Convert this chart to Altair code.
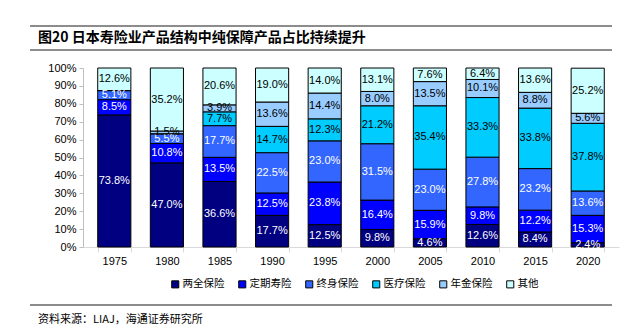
import altair as alt
import pandas as pd

years = ['1975', '1980', '1985', '1990', '1995', '2000', '2005', '2010', '2015', '2020']
series = ['两全保险', '定期寿险', '终身保险', '医疗保险', '年金保险', '其他']
liangquan = [73.8, 47.0, 36.6, 17.7, 12.5, 9.8, 4.6, 12.6, 8.4, 2.4]
dingqi = [8.5, 10.8, 13.5, 12.5, 23.8, 16.4, 15.9, 9.8, 12.2, 15.3]
zhongshen = [5.1, 5.5, 17.7, 22.5, 23.0, 31.5, 23.0, 27.8, 23.2, 13.6]
yiliao = [0.0, 0.0, 7.7, 14.7, 12.3, 21.2, 35.4, 33.3, 33.8, 37.8]
nianjin = [0.0, 1.5, 3.9, 13.6, 14.4, 8.0, 13.5, 10.1, 8.8, 5.6]
qita = [12.6, 35.2, 20.6, 19.0, 14.0, 13.1, 7.6, 6.4, 13.6, 25.2]
colors = ['#000080', '#0000FF', '#3366FF', '#00CCFF', '#99CCFF', '#CCFFFF']
y_ticks = [0, 10, 20, 30, 40, 50, 60, 70, 80, 90, 100]

title_text = '图20 日本寿险业产品结构中纯保障产品占比持续提升'
source_text = '资料来源：LIAJ，海通证券研究所'

all_vals = [liangquan, dingqi, zhongshen, yiliao, nianjin, qita]
rows = []
for si, (s, vals) in enumerate(zip(series, all_vals)):
    for y, v in zip(years, vals):
        rows.append({'year': y, 'series': s, 'value': v, 'order': si})
df = pd.DataFrame(rows)

W, H = 536, 179
PL, PT = 83, 68
CJK = 'Noto Sans CJK SC'
LAT = 'Liberation Sans'

base = alt.Chart(df).transform_stack(
    stack='value', as_=['y0', 'y1'], groupby=['year'],
    sort=[alt.SortField('order', order='ascending')]
).transform_calculate(
    mid='(datum.y0 + datum.y1) / 2',
    label="format(datum.value, '.1f') + '%'"
)

xaxis = alt.Axis(title=None, labelAngle=0, tickBand='extent',
                 domainColor='#d9d9d9', tickColor='#d9d9d9', tickSize=5,
                 labelFont=LAT, labelFontSize=11, labelColor='black',
                 labelPadding=3, labelOverlap=False)
xscale = alt.Scale(paddingInner=0.37, paddingOuter=0.28)
yaxis = alt.Axis(title=None, values=y_ticks, tickCount=11,
                 labelExpr="datum.value + '%'", grid=False,
                 labelOverlap=False, labelBound=False,
                 domainColor='#bfbfbf', tickColor='#bfbfbf', tickSize=4,
                 labelFont=LAT, labelFontSize=11, labelColor='black',
                 labelPadding=3)
yscale = alt.Scale(domain=[0, 100], nice=False)

bars = base.mark_bar(stroke='black', strokeWidth=1).encode(
    x=alt.X('year:N', sort=years, scale=xscale, axis=xaxis),
    y=alt.Y('y0:Q', scale=yscale, axis=yaxis),
    y2='y1:Q',
    fill=alt.Color('series:N', scale=alt.Scale(domain=series, range=colors),
                   legend=alt.Legend(title=None, orient='none', direction='horizontal',
                                     legendX=170 - PL, legendY=279 - PT,
                                     symbolType='square', symbolSize=50,
                                     symbolStrokeColor='black', symbolStrokeWidth=1,
                                     symbolOpacity=1,
                                     labelFont=CJK, labelFontSize=10.5, labelColor='black',
                                     columnPadding=11, labelOffset=2)),
)

labels = base.transform_filter('datum.value > 0').mark_text(font=LAT, fontSize=11).encode(
    x=alt.X('year:N', sort=years, scale=xscale, axis=xaxis),
    y=alt.Y('mid:Q', scale=yscale, axis=yaxis),
    text='label:N',
    color=alt.condition("datum.order <= 2", alt.value('white'), alt.value('black')),
)

one = pd.DataFrame({'a': [0]})
rule_top = alt.Chart(one).mark_rule(color='#8c8c8c', strokeWidth=2).encode(
    x=alt.value(30 - PL), x2=alt.value(612 - PL), y=alt.value(26 - PT))
rule_mid = alt.Chart(one).mark_rule(color='#8c8c8c', strokeWidth=2).encode(
    x=alt.value(30 - PL), x2=alt.value(612 - PL), y=alt.value(50 - PT))
rule_bot = alt.Chart(one).mark_rule(color='#8c8c8c', strokeWidth=2).encode(
    x=alt.value(30 - PL), x2=alt.value(612 - PL), y=alt.value(305 - PT))
title = alt.Chart(one).mark_text(font=CJK, fontSize=14, fontWeight='bold',
                                 align='left', baseline='middle', color='black').encode(
    x=alt.value(38 - PL), y=alt.value(38 - PT), text=alt.value(title_text))
source = alt.Chart(one).mark_text(font=CJK, fontSize=11, align='left',
                                  baseline='middle', color='black').encode(
    x=alt.value(38 - PL), y=alt.value(320 - PT), text=alt.value(source_text))

chart = alt.layer(bars, labels, rule_top, rule_mid, rule_bot, title, source).properties(
    width=W, height=H,
    padding={'left': PL, 'top': PT, 'right': 643 - PL - W, 'bottom': 330 - PT - H},
    autosize=alt.AutoSizeParams(type='none'),
    background='white',
).configure_view(stroke=None)

chart.save('out.html', embed_options={'renderer': 'svg', 'actions': False})
